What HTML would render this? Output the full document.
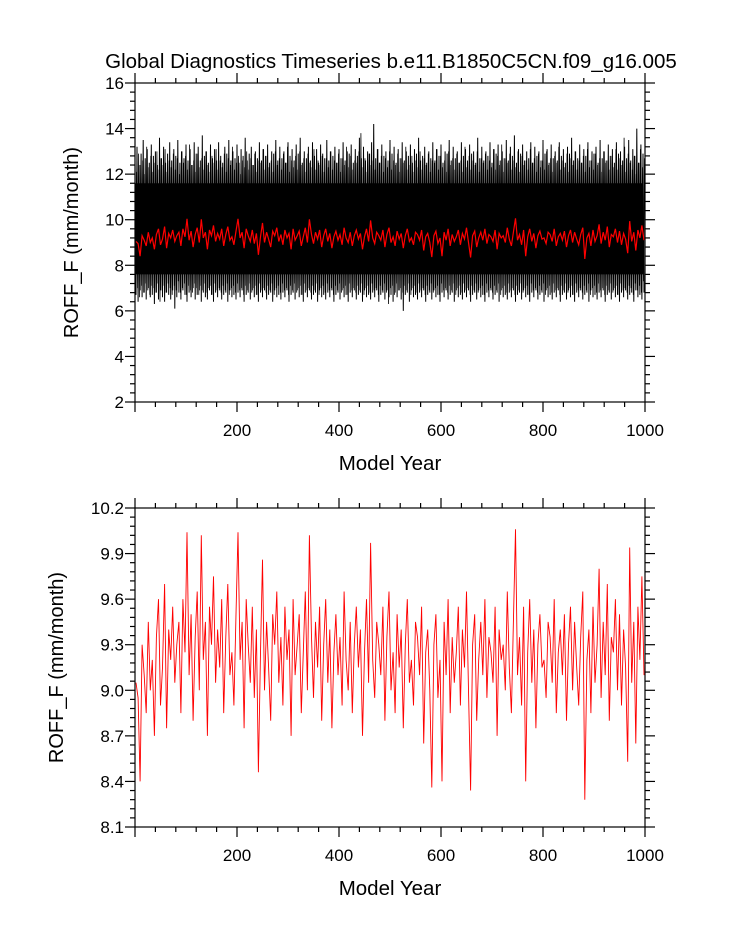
<!DOCTYPE html>
<html><head><meta charset="utf-8"><style>
html,body{margin:0;padding:0;background:#fff;}
svg{display:block;font-family:"Liberation Sans",sans-serif;}
</style></head><body>
<svg id="chart" width="733" height="945" viewBox="0 0 733 945" xmlns="http://www.w3.org/2000/svg">
<text x="391" y="68" font-size="20.5" text-anchor="middle">Global Diagnostics Timeseries b.e11.B1850C5CN.f09_g16.005</text>
<g id="top"></g>
<g id="bot"></g>
</svg>
<script>
const annual = [
9.05,8.95,8.40,9.30,9.10,8.85,9.45,9.00,9.20,8.70,
9.35,9.60,8.90,9.15,9.70,8.75,9.40,9.20,9.55,9.05,
9.30,9.45,8.85,9.60,9.25,10.04,9.10,9.50,8.80,9.35,
9.65,9.00,10.02,9.20,9.45,8.70,9.55,9.30,9.75,9.05,
9.40,9.15,9.60,8.85,9.35,9.70,9.10,9.25,8.90,9.50,
10.04,9.20,9.45,8.75,9.60,9.30,9.05,9.55,8.95,9.40,
8.46,9.25,9.86,9.00,9.45,9.15,8.80,9.50,9.30,9.65,
9.05,9.35,8.90,9.55,9.20,9.40,8.70,9.60,9.10,9.30,
9.50,8.85,9.25,9.65,9.00,10.02,9.35,8.95,9.45,9.15,
9.55,8.80,9.30,9.60,9.05,9.40,8.75,9.25,9.50,9.10,
9.35,8.90,9.65,9.20,9.00,9.45,8.85,9.30,9.55,9.15,
9.40,8.70,9.25,9.60,9.05,9.97,9.20,8.95,9.45,9.30,
9.10,9.55,8.80,9.35,9.65,9.00,9.25,8.85,9.50,9.15,
9.40,8.75,9.30,9.60,9.05,9.20,8.90,9.45,9.35,9.10,
9.55,8.65,9.25,9.40,9.00,8.36,9.30,9.50,8.95,9.20,
8.40,9.45,9.10,9.60,8.85,9.35,9.05,9.25,9.55,8.90,
9.40,9.15,9.65,9.00,8.34,9.30,9.50,8.80,9.20,9.45,
9.10,9.60,8.95,9.35,9.25,9.05,9.55,8.70,9.40,9.20,
9.30,9.00,9.65,9.15,8.85,9.45,10.06,9.10,9.35,8.90,
9.55,8.40,9.25,9.60,9.05,9.40,8.75,9.30,9.50,9.15,
9.20,8.95,9.45,9.35,9.05,9.60,8.85,9.25,9.40,9.10,
9.50,8.80,9.30,9.55,9.00,9.45,9.15,8.90,9.35,9.65,
8.28,9.20,9.40,8.85,9.55,9.05,9.30,9.80,8.95,9.45,
9.10,9.70,8.80,9.35,9.25,9.60,9.00,9.50,8.90,9.40,
9.15,8.53,9.94,9.05,9.45,8.65,9.55,9.20,9.75,9.10];
const monthlyMax = [
12.6,13.2,12.4,12.9,13.5,12.7,13.1,12.5,13.3,12.8,
13.0,12.4,13.6,12.7,13.2,12.5,12.9,13.4,12.6,13.1,
12.8,13.5,12.5,13.0,12.7,13.3,12.6,13.1,12.4,13.4,
12.9,13.2,12.6,13.7,12.8,13.0,12.5,13.3,12.7,13.1,
12.6,13.4,12.8,12.5,13.2,12.9,13.5,12.6,13.0,12.7,
13.3,12.5,13.1,12.8,13.6,12.6,12.9,13.2,12.4,13.0,
12.7,13.4,12.6,13.1,12.8,13.3,12.5,13.0,12.9,13.5,
12.6,13.2,12.7,13.0,12.5,13.4,12.8,13.1,12.6,13.3,
12.9,13.6,12.5,13.0,12.7,13.2,12.6,13.4,12.8,13.1,
12.5,13.3,12.9,12.7,13.5,12.6,13.0,12.8,13.2,12.5,
13.1,12.7,13.4,12.6,13.0,12.9,13.3,12.5,13.1,12.8,
13.6,12.7,13.2,12.6,13.0,12.9,13.4,14.2,12.7,13.1,
12.5,13.3,12.8,13.0,12.6,13.5,12.9,13.2,12.5,13.1,
12.7,13.4,12.6,13.0,12.8,13.3,12.5,13.1,12.9,13.6,
12.6,12.8,13.2,12.5,13.0,12.7,13.4,12.6,13.1,12.8,
13.3,12.5,13.0,12.9,13.5,12.6,13.2,12.7,13.0,12.5,
13.4,12.8,13.1,12.6,13.3,12.9,13.0,12.5,13.6,12.7,
13.2,12.6,13.0,12.8,13.4,12.5,13.1,12.9,13.3,12.6,
13.0,12.7,13.5,12.6,13.2,12.8,13.7,12.5,13.1,12.9,
13.3,12.6,13.0,12.7,13.4,12.5,13.2,12.8,13.0,12.6,
13.5,12.9,13.1,12.5,13.3,12.7,13.0,12.6,13.4,12.8,
13.1,12.5,13.2,12.9,13.6,12.6,13.0,12.7,13.3,12.5,
13.1,12.8,13.4,12.6,13.0,12.9,13.2,12.5,13.5,12.7,
13.0,12.6,13.3,12.8,13.1,12.5,13.4,12.9,13.0,12.6,
13.2,12.7,13.5,12.6,13.1,12.8,14.0,12.5,13.3,12.9];
const monthlyMin = [
6.7,6.4,6.9,6.6,6.8,6.5,7.0,6.6,6.7,6.3,
6.8,6.5,6.9,6.6,6.4,6.8,6.7,6.5,6.9,6.1,
6.6,6.8,6.5,6.9,6.7,6.4,6.8,6.6,7.0,6.5,
6.7,6.9,6.4,6.8,6.6,6.5,6.9,6.7,6.4,6.8,
6.6,6.9,6.5,6.7,6.8,6.4,6.9,6.6,6.7,6.5,
6.8,6.6,6.9,6.4,6.7,6.8,6.5,6.9,6.6,6.7,
6.4,6.8,6.6,6.9,6.5,6.7,6.8,6.4,6.9,6.6,
6.7,6.5,6.8,6.6,6.9,6.4,6.7,6.8,6.5,6.9,
6.6,6.7,6.4,6.8,6.6,6.9,6.5,6.7,6.8,6.4,
6.9,6.6,6.7,6.5,6.8,6.6,6.9,6.4,6.7,6.8,
6.5,6.9,6.6,6.7,6.4,6.8,6.6,6.9,6.5,6.7,
6.8,6.4,6.9,6.6,6.7,6.5,6.8,6.6,6.9,6.4,
6.7,6.8,6.5,6.9,6.6,6.7,6.4,6.8,6.6,6.9,
6.5,6.0,6.7,6.8,6.4,6.9,6.6,6.7,6.5,6.8,
6.6,6.9,6.4,6.7,6.8,6.5,6.9,6.6,6.7,6.4,
6.8,6.6,6.9,6.5,6.7,6.8,6.4,6.9,6.6,6.7,
6.5,6.8,6.6,6.9,6.4,6.7,6.8,6.5,6.9,6.6,
6.7,6.4,6.8,6.6,6.9,6.5,6.7,6.8,6.4,6.9,
6.6,6.7,6.5,6.8,6.6,6.9,6.4,6.7,6.8,6.5,
6.9,6.6,6.7,6.4,6.8,6.6,6.9,6.5,6.7,6.8,
6.4,6.9,6.6,6.7,6.5,6.8,6.6,6.9,6.4,6.7,
6.8,6.5,6.9,6.6,6.7,6.4,6.8,6.6,6.9,6.5,
6.7,6.8,6.4,6.9,6.6,6.7,6.5,6.8,6.6,6.9,
6.4,6.7,6.8,6.5,6.9,6.6,6.7,6.4,6.8,6.6,
6.9,6.5,6.7,6.8,6.4,6.9,6.6,6.7,6.5,6.8];
const yearStep = 4;
const xTicks = [200,400,600,800,1000];
const topYTicks = ["2","4","6","8","10","12","14","16"];
const botYTicks = ["8.1","8.4","8.7","9.0","9.3","9.6","9.9","10.2"];

const NS = "http://www.w3.org/2000/svg";
function mk(tag, attrs, parent){const e=document.createElementNS(NS,tag);for(const k in attrs)e.setAttribute(k,attrs[k]);parent.appendChild(e);return e;}
const X0=135,X1=645;
function xs(yr){return X0+(yr/1000)*(X1-X0);}

function panel(g, top, bottom, ymin, ymax, ylabels, ylabX, name){
  const ys=v=>bottom-(v-ymin)/(ymax-ymin)*(bottom-top);
  const ax=mk('g',{stroke:'#000','stroke-width':1.2,fill:'none'},g);
  
  
  for(let yr=0;yr<=1000;yr+=40){
    const major=yr%200===0, L=major?10:5, x=xs(yr);
    mk('line',{x1:x,x2:x,y1:bottom,y2:bottom+L},ax);
    mk('line',{x1:x,x2:x,y1:top,y2:top-L},ax);
  }
  const n=ylabels.length-1, minors=5;
  for(let i=0;i<=n*minors;i++){
    const y=bottom-i/(n*minors)*(bottom-top), L=i%minors===0?10:5;
    mk('line',{x1:X0,x2:X0-L,y1:y,y2:y},ax);
    mk('line',{x1:X1,x2:X1+L,y1:y,y2:y},ax);
  }
  xTicks.forEach(v=>{
    const t=mk('text',{x:xs(v),y:bottom+34,'font-size':17,'text-anchor':'middle'},g);
    
    
    t.textContent=v;
  });
  ylabels.forEach((s,i)=>{
    const y=bottom-i/n*(bottom-top);
    const t=mk('text',{x:X0-11,y:y+6,'font-size':17,'text-anchor':'end'},g);
    
    
    t.textContent=s;
  });
  const xl=mk('text',{x:390,y:bottom+68,'font-size':20.5,'text-anchor':'middle'},g);
  
  
  xl.textContent='Model Year';
  const cy=(top+bottom)/2;
  const yl=mk('text',{x:ylabX,y:cy,'font-size':20,'text-anchor':'middle',transform:`rotate(-90 ${ylabX} ${cy})`},g);
  
  
  yl.textContent='ROFF_F (mm/month)';
  return ys;
}

const topG=document.getElementById('top');
const ysT=panel(topG,83,402,2,16,topYTicks,78,'top');
let d='';
monthlyMax.forEach((v,i)=>{
  const x0=xs(i*yearStep), x1=xs(i*yearStep+yearStep/2);
  d+=(i===0?'M':'L')+x0.toFixed(1)+','+ysT(v).toFixed(1)+'L'+x1.toFixed(1)+','+ysT(monthlyMin[i]).toFixed(1);
});
const band=mk('path',{d:d,stroke:'#000','stroke-width':1.0,fill:'none'},topG);


let d2='';
monthlyMax.forEach((v,i)=>{
  const j=(i+7)%monthlyMax.length;
  const x0=xs(i*yearStep+1), x1=xs(i*yearStep+3);
  d2+=(i===0?'M':'L')+x0.toFixed(1)+','+ysT(monthlyMin[j]+0.3).toFixed(1)+'L'+x1.toFixed(1)+','+ysT(monthlyMax[j]-0.4).toFixed(1);
});
const band2=mk('path',{d:d2,stroke:'#000','stroke-width':0.8,fill:'none'},topG);


let core='';
monthlyMax.forEach((v,i)=>{core+=(i===0?'M':'L')+xs(i*yearStep).toFixed(1)+','+ysT(11.6).toFixed(1);});
for(let i=monthlyMin.length-1;i>=0;i--){core+='L'+xs(i*yearStep).toFixed(1)+','+ysT(7.6).toFixed(1);}
const coreP=mk('path',{d:core+'Z',fill:'#000'},topG);


function linePath(ys){return annual.map((v,i)=>(i===0?'M':'L')+xs(i*yearStep+2).toFixed(1)+','+ys(v).toFixed(1)).join('');}
const redT=mk('path',{d:linePath(ysT),stroke:'#ff0000','stroke-width':1.2,fill:'none'},topG);


const frT=mk('rect',{x:X0,y:83,width:X1-X0,height:319,fill:'none',stroke:'#000','stroke-width':1.2},topG);



const botG=document.getElementById('bot');
const ysB=panel(botG,508,827,8.1,10.2,botYTicks,63,'bottom');
const redB=mk('path',{d:linePath(ysB),stroke:'#ff0000','stroke-width':0.9,fill:'none'},botG);


const frB=mk('rect',{x:X0,y:508,width:X1-X0,height:319,fill:'none',stroke:'#000','stroke-width':1.2},botG);


</script>
</body></html>
